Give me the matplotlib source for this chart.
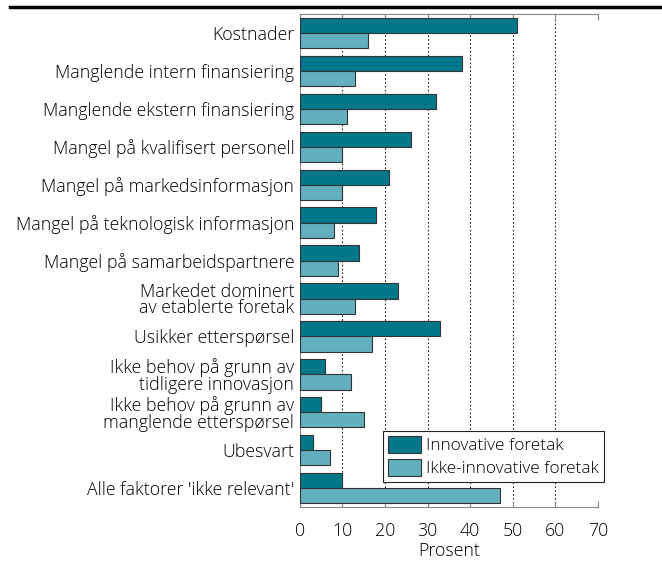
import numpy as np
import matplotlib.pyplot as plt
from matplotlib.lines import Line2D

plt.rcParams['font.family'] = ['Open Sans', 'DejaVu Sans']
plt.rcParams['font.weight'] = 'light'
plt.rcParams['axes.labelweight'] = 'light'

categories = [
    "Kostnader",
    "Manglende intern finansiering",
    "Manglende ekstern finansiering",
    "Mangel på kvalifisert personell",
    "Mangel på markedsinformasjon",
    "Mangel på teknologisk informasjon",
    "Mangel på samarbeidspartnere",
    "Markedet dominert\nav etablerte foretak",
    "Usikker etterspørsel",
    "Ikke behov på grunn av\ntidligere innovasjon",
    "Ikke behov på grunn av\nmanglende etterspørsel",
    "Ubesvart",
    "Alle faktorer 'ikke relevant'",
]
innovative = [51, 38, 32, 26, 21, 18, 14, 23, 33, 6, 5, 3, 10]
non_innovative = [16, 13, 11, 10, 10, 8, 9, 13, 17, 12, 15, 7, 47]
xticks = [0, 10, 20, 30, 40, 50, 60, 70]

dark = '#00788a'
light = '#62afbd'
edge = '#333333'
fs = 12.8

fig = plt.figure(figsize=(6.62, 5.61), dpi=100)
ax = fig.add_axes([0.453, 0.096, 0.450, 0.879])

y = np.arange(len(categories))
h = 0.4
ax.barh(y - h / 2, innovative, height=h, color=dark, edgecolor=edge,
        linewidth=0.8, label='Innovative foretak', zorder=3)
ax.barh(y + h / 2, non_innovative, height=h, color=light, edgecolor=edge,
        linewidth=0.8, label='Ikke-innovative foretak', zorder=3)

ax.set_ylim(len(categories) - 0.5, -0.5)
ax.set_xlim(0, 70)
ax.set_yticks(y)
ax.set_yticklabels(categories, fontsize=fs, linespacing=0.92)
ax.set_xticks(xticks)
ax.set_xticklabels([str(t) for t in xticks], fontsize=fs)
ax.set_xlabel('Prosent', fontsize=fs, fontweight='light', labelpad=1)

ax.grid(axis='x', linestyle=(0, (1.5, 2)), color='#222222', linewidth=0.8, zorder=0)
ax.tick_params(axis='y', length=0, pad=4)
ax.tick_params(axis='x', direction='in', length=4, color='#888888', top=True, pad=11)

for s in ['left', 'bottom', 'top']:
    ax.spines[s].set_color('#888888')
ax.spines['right'].set_visible(False)

leg = ax.legend(loc='lower right', bbox_to_anchor=(1.02, 0.05), fontsize=fs - 0.4,
                frameon=True, fancybox=False, edgecolor='#222222', framealpha=1,
                handlelength=1.9, handleheight=1.2, borderpad=0.3,
                labelspacing=0.25, handletextpad=0.3, borderaxespad=0)
leg.get_frame().set_linewidth(0.8)
leg.set_zorder(5)

fig.add_artist(Line2D([0.015, 1.0], [0.987, 0.987], color='black', linewidth=2.5,
                      transform=fig.transFigure))

fig.savefig('out.png', dpi=100)
